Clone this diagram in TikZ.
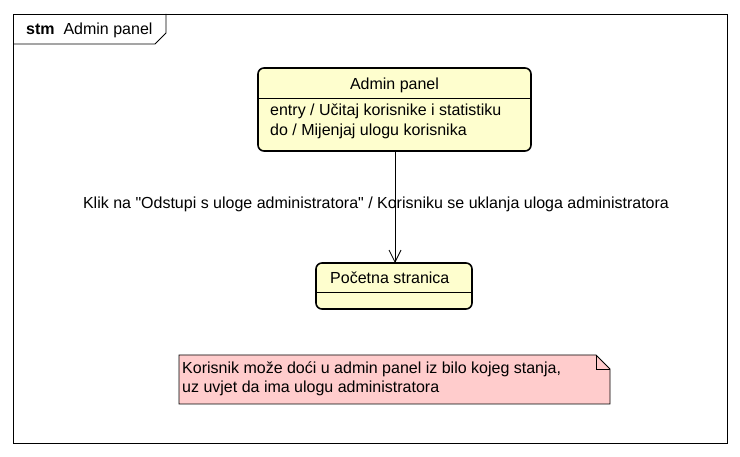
\documentclass[tikz,border=0pt]{standalone}
\usepackage{fontspec}
\setmainfont{Liberation Sans}[Ligatures=TeXOff]
\usetikzlibrary{arrows.meta}
\definecolor{statefill}{HTML}{FEFECE}
\definecolor{notefill}{HTML}{FFCCCC}
\begin{document}
\begin{tikzpicture}[x=1pt,y=-1pt,
  txt/.style={font=\fontsize{16}{19}\selectfont, inner sep=0pt, anchor=base west},
  statebox/.style={draw=black, line width=1.6pt, fill=statefill, rounded corners=6pt},
  thin/.style={draw=black, line width=0.8pt}]
\useasboundingbox (0,0) rectangle (740,457);
\fill[white] (0,0) rectangle (740,457);
% frame
\draw[thin] (13,14) rectangle (727,443);
\draw[thin] (13,44) -- (155,44) -- (166,33) -- (166,14);
\node[txt] (ttl) at (26,35) {\textbf{stm}\ \ Admin panel};
% Admin panel state
\draw[statebox] (258,68) rectangle (531,151);
\coordinate (apS) at (395,151);
\draw[thin] (258,98) -- (531,98);
\node[txt, anchor=base] (apT) at (394.5,90) {Admin panel};
\node[txt] (ap1) at (270,116) {entry / Učitaj korisnike i statistiku};
\node[txt] (ap2) at (270,136) {do / Mijenjaj ulogu korisnika};
% Pocetna stranica
\draw[statebox] (316,263) rectangle (472,309);
\coordinate (psN) at (395,263);
\draw[thin] (316,292) -- (472,292);
\node[txt] (psT) at (330,284) {Početna stranica};
% transition
\draw[thin, -{Straight Barb[length=12pt, width=12pt, line width=0.8pt]}] (apS) -- (psN);
\node[txt, anchor=base] (lbl) at (376,209) {Klik na "Odstupi s uloge administratora" / Korisniku se uklanja uloga administratora};
% note
\draw[thin, fill=notefill] (179,355) -- (596,355) -- (610,369) -- (610,404) -- (179,404) -- cycle;
\draw[thin] (596,355) -- (596,369) -- (610,369);
\node[txt] (n1) at (182,374) {Korisnik može doći u admin panel iz bilo kojeg stanja,};
\node[txt] (n2) at (182,392) {uz uvjet da ima ulogu administratora};
\end{tikzpicture}
\end{document}
